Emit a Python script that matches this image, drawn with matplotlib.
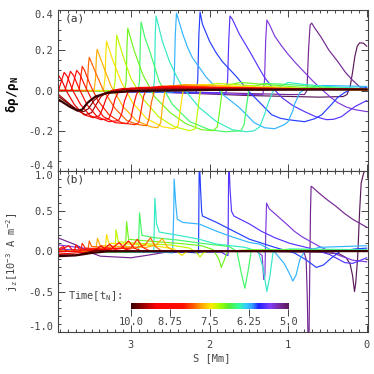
import numpy as np
import matplotlib
matplotlib.use('Agg')
import matplotlib.pyplot as plt
from matplotlib.colors import LinearSegmentedColormap, Normalize
from matplotlib.ticker import MultipleLocator

plt.rcParams['font.family'] = ['DejaVu Sans Mono']
plt.rcParams['mathtext.fontset'] = 'custom'
plt.rcParams['mathtext.rm'] = 'DejaVu Sans Mono'
plt.rcParams['mathtext.it'] = 'DejaVu Sans Mono'
plt.rcParams['mathtext.default'] = 'regular'

# snapshot times [t_N]
times = [5.0, 5.25, 5.5, 5.75, 6.0, 6.25, 6.5, 6.75, 7.0, 7.25, 7.5,
         7.75, 8.0, 8.25, 8.5, 8.75, 9.0, 9.25, 9.5, 9.75, 10.0]

# (a) density perturbation, points (S [Mm], drho/rho)
a_500 = [(3.92, 0.0), (2.5, -0.01), (1.5, -0.025), (0.6, -0.033), (0.3, -0.03), (0.25, -0.02),
         (0.21, 0.02), (0.18, 0.09), (0.15, 0.17), (0.12, 0.22), (0.09, 0.237), (0.04, 0.235), (0.0, 0.22)]
a_525 = [(3.92, 0.0), (2.0, -0.01), (1.0, -0.02), (0.79, -0.02), (0.76, 0.0), (0.74, 0.2), (0.72, 0.325),
         (0.70, 0.335), (0.66, 0.31), (0.58, 0.265), (0.48, 0.2), (0.37, 0.145), (0.27, 0.09),
         (0.19, 0.055), (0.08, 0.015), (0.0, 0.0)]
a_550 = [(3.92, 0.0), (2.5, -0.01), (1.5, -0.02), (1.32, -0.02), (1.30, 0.05), (1.285, 0.25), (1.27, 0.35),
         (1.24, 0.33), (1.17, 0.27), (1.08, 0.22), (1.0, 0.18), (0.9, 0.135), (0.79, 0.09), (0.68, 0.045),
         (0.57, 0.005), (0.47, -0.03), (0.37, -0.06), (0.26, -0.082), (0.15, -0.095), (0.0, -0.105)]
a_575 = [(3.92, 0.0), (2.5, -0.01), (1.79, -0.012), (1.77, 0.05), (1.755, 0.25), (1.74, 0.37), (1.71, 0.355),
         (1.62, 0.28), (1.49, 0.195), (1.36, 0.105), (1.3, 0.065), (1.2, 0.015), (1.08, -0.035),
         (0.94, -0.075), (0.79, -0.105), (0.65, -0.13), (0.51, -0.145), (0.42, -0.143), (0.32, -0.13),
         (0.22, -0.1), (0.15, -0.08), (0.0, -0.05)]
a_600 = [(3.92, 0.0), (2.6, -0.008), (2.17, -0.01), (2.15, 0.05), (2.135, 0.28), (2.12, 0.39), (2.09, 0.33),
         (2.0, 0.245), (1.92, 0.19), (1.84, 0.145), (1.66, 0.07), (1.5, -0.005), (1.36, -0.06),
         (1.21, -0.12), (1.1, -0.138), (1.0, -0.145), (0.79, -0.155), (0.66, -0.14), (0.57, -0.12),
         (0.45, -0.07), (0.37, -0.035), (0.28, -0.01), (0.2, 0.005), (0.0, 0.015)]
a_625 = [(3.92, 0.0), (2.9, -0.005), (2.47, -0.008), (2.45, 0.05), (2.435, 0.28), (2.42, 0.385),
         (2.34, 0.28), (2.28, 0.215), (2.22, 0.165), (2.04, 0.065), (1.83, -0.02), (1.62, -0.085),
         (1.43, -0.16), (1.3, -0.185), (1.17, -0.19), (1.05, -0.17), (1.0, -0.155), (0.94, -0.1),
         (0.92, -0.07), (0.85, -0.01), (0.79, 0.005), (0.57, 0.025), (0.2, 0.022), (0.0, 0.02)]
a_650 = [(3.92, 0.0), (3.0, -0.005), (2.72, -0.006), (2.70, 0.05), (2.69, 0.28), (2.68, 0.37), (2.6, 0.245),
         (2.51, 0.145), (2.42, 0.07), (2.34, 0.015), (2.13, -0.085), (1.91, -0.155), (1.71, -0.195),
         (1.53, -0.205), (1.43, -0.2), (1.36, -0.18), (1.3, -0.12), (1.26, -0.07), (1.2, -0.01),
         (1.17, 0.005), (1.0, 0.04), (0.79, 0.03), (0.5, 0.02), (0.0, 0.01)]
a_675 = [(3.92, 0.0), (3.2, -0.003), (2.91, -0.005), (2.89, 0.05), (2.88, 0.25), (2.87, 0.34),
         (2.82, 0.26), (2.76, 0.195), (2.64, 0.045), (2.47, -0.07), (2.25, -0.155), (2.0, -0.195),
         (1.8, -0.205), (1.6, -0.2), (1.56, -0.17), (1.53, -0.08), (1.5, 0.0), (1.45, 0.02),
         (1.3, 0.035), (1.0, 0.03), (0.5, 0.015), (0.0, 0.005)]
a_700 = [(3.92, 0.0), (3.3, 0.0), (3.08, -0.003), (3.06, 0.05), (3.05, 0.22), (3.04, 0.31), (2.96, 0.2),
         (2.85, 0.08), (2.7, -0.03), (2.5, -0.11), (2.3, -0.165), (2.1, -0.195), (1.95, -0.2),
         (1.9, -0.18), (1.87, -0.1), (1.84, 0.0), (1.8, 0.025), (1.6, 0.04), (1.3, 0.03),
         (0.8, 0.015), (0.0, 0.005)]
a_725 = [(3.92, 0.0), (3.4, 0.0), (3.22, -0.003), (3.2, 0.05), (3.19, 0.2), (3.18, 0.275), (3.1, 0.17),
         (3.0, 0.06), (2.85, -0.04), (2.65, -0.13), (2.45, -0.18), (2.25, -0.2), (2.18, -0.19),
         (2.15, -0.1), (2.12, -0.01), (2.08, 0.025), (1.9, 0.035), (1.5, 0.025), (0.8, 0.01),
         (0.0, 0.003)]
a_750 = [(3.92, 0.0), (3.5, 0.0), (3.35, -0.003), (3.33, 0.06), (3.32, 0.18), (3.31, 0.245), (3.23, 0.15),
         (3.12, 0.04), (2.98, -0.06), (2.8, -0.14), (2.6, -0.18), (2.45, -0.19), (2.4, -0.175),
         (2.37, -0.09), (2.34, -0.01), (2.3, 0.02), (2.1, 0.03), (1.6, 0.02), (0.8, 0.008),
         (0.0, 0.003)]
a_775 = [(3.92, 0.0), (3.6, 0.0), (3.47, -0.003), (3.45, 0.06), (3.44, 0.16), (3.43, 0.205), (3.35, 0.12),
         (3.25, 0.02), (3.1, -0.08), (2.93, -0.15), (2.75, -0.18), (2.66, -0.185), (2.62, -0.16),
         (2.6, -0.08), (2.57, -0.01), (2.52, 0.02), (2.3, 0.03), (1.8, 0.02), (1.0, 0.008),
         (0.0, 0.003)]
a_800 = [(3.92, 0.0), (3.7, 0.0), (3.57, -0.003), (3.55, 0.06), (3.54, 0.13), (3.53, 0.165), (3.45, 0.09),
         (3.35, 0.0), (3.2, -0.09), (3.05, -0.15), (2.9, -0.17), (2.8, -0.175), (2.77, -0.14),
         (2.74, -0.06), (2.7, 0.0), (2.65, 0.02), (2.4, 0.025), (1.8, 0.015), (0.0, 0.005)]
a_825 = [(3.92, 0.0), (3.75, 0.0), (3.66, 0.0), (3.64, 0.06), (3.62, 0.12), (3.59, 0.1), (3.52, 0.03),
         (3.42, -0.05), (3.28, -0.12), (3.12, -0.16), (2.95, -0.17), (2.9, -0.16), (2.87, -0.1),
         (2.84, -0.03), (2.8, 0.01), (2.6, 0.02), (1.8, 0.012), (0.0, 0.005)]
a_850 = [(3.92, 0.0), (3.76, 0.0), (3.73, 0.04), (3.69, 0.1), (3.65, 0.08), (3.58, 0.02), (3.48, -0.06),
         (3.35, -0.13), (3.2, -0.16), (3.05, -0.165), (3.0, -0.14), (2.97, -0.08), (2.93, -0.02),
         (2.88, 0.01), (2.6, 0.02), (1.8, 0.012), (0.0, 0.005)]
a_875 = [(3.92, 0.0), (3.84, 0.0), (3.81, 0.04), (3.77, 0.095), (3.73, 0.075), (3.66, 0.01), (3.56, -0.07),
         (3.43, -0.13), (3.28, -0.155), (3.16, -0.15), (3.12, -0.12), (3.08, -0.05), (3.03, 0.0),
         (2.9, 0.015), (2.4, 0.018), (1.5, 0.012), (0.0, 0.005)]
a_900 = [(3.92, 0.0), (3.89, 0.04), (3.85, 0.09), (3.81, 0.07), (3.74, 0.0), (3.64, -0.07), (3.52, -0.125),
         (3.38, -0.145), (3.28, -0.14), (3.24, -0.1), (3.2, -0.04), (3.15, 0.0), (3.0, 0.012),
         (2.4, 0.015), (1.5, 0.01), (0.0, 0.005)]
a_925 = [(3.92, 0.075), (3.88, 0.05), (3.81, -0.01), (3.72, -0.07), (3.6, -0.12), (3.48, -0.135),
         (3.4, -0.125), (3.36, -0.09), (3.31, -0.035), (3.25, 0.0), (3.1, 0.01), (2.4, 0.012),
         (1.5, 0.01), (0.0, 0.005)]
a_950 = [(3.92, -0.02), (3.8, -0.06), (3.68, -0.1), (3.58, -0.12), (3.5, -0.11), (3.45, -0.075),
         (3.38, -0.03), (3.3, -0.008), (3.1, 0.005), (2.5, 0.01), (1.5, 0.008), (0.0, 0.005)]
a_975 = [(3.92, -0.03), (3.78, -0.07), (3.66, -0.1), (3.6, -0.105), (3.54, -0.09), (3.47, -0.05),
         (3.38, -0.02), (3.2, -0.005), (2.8, 0.003), (1.5, 0.006), (0.0, 0.005)]
a_1000 = [(3.92, -0.045), (3.78, -0.08), (3.68, -0.1), (3.62, -0.095), (3.55, -0.06), (3.45, -0.03),
          (3.3, -0.012), (3.0, -0.003), (2.0, 0.003), (0.0, 0.005)]

# (b) current density j_z [1e-3 A m^-2]
b_500 = [(3.92, 0.0), (1.5, 0.0), (0.6, -0.01), (0.35, -0.03), (0.26, -0.08), (0.21, -0.16), (0.18, -0.3),
         (0.155, -0.5), (0.14, -0.4), (0.115, -0.08), (0.09, 0.5), (0.07, 0.85), (0.04, 0.97), (0.0, 1.05)]
b_525 = [(3.92, 0.165), (3.7, 0.08), (3.5, -0.02), (3.39, -0.06), (3.0, -0.08), (2.8, -0.05), (2.55, -0.01),
         (2.2, 0.0), (1.2, 0.01), (0.8, 0.0), (0.77, -0.1), (0.755, -0.6), (0.745, -1.2), (0.735, -1.2),
         (0.725, -0.3), (0.715, 0.5), (0.707, 0.81), (0.68, 0.79), (0.6, 0.72), (0.5, 0.64), (0.39, 0.56),
         (0.28, 0.47), (0.18, 0.4), (0.0, 0.3)]
b_550 = [(3.92, 0.08), (3.6, 0.04), (3.3, 0.01), (3.0, 0.0), (2.0, 0.0), (1.4, 0.0), (1.33, -0.05),
         (1.31, -0.35), (1.295, -0.3), (1.285, 0.2), (1.274, 0.6), (1.24, 0.53), (1.17, 0.47),
         (1.02, 0.34), (0.92, 0.25), (0.82, 0.18), (0.6, 0.06), (0.38, -0.04), (0.18, -0.11), (0.0, -0.13)]
b_575 = [(3.92, 0.03), (3.5, 0.0), (2.5, -0.01), (1.85, -0.01), (1.78, -0.05), (1.765, -0.05),
         (1.755, 1.2), (1.74, 0.8), (1.72, 0.5), (1.69, 0.44), (1.49, 0.34), (1.34, 0.25),
         (1.17, 0.17), (0.98, 0.1), (0.73, 0.04), (0.47, -0.04), (0.28, -0.14), (0.18, -0.15),
         (0.0, -0.08)]
b_600 = [(3.92, 0.0), (2.3, -0.01), (2.14, -0.02), (2.13, 1.2), (2.115, 0.8), (2.1, 0.5), (2.09, 0.44),
         (1.91, 0.36), (1.71, 0.26), (1.49, 0.15), (1.36, 0.11), (1.17, 0.05), (0.92, -0.02),
         (0.78, -0.1), (0.64, -0.2), (0.55, -0.17), (0.47, -0.1), (0.34, 0.0), (0.15, 0.03), (0.0, 0.04)]
b_625 = [(3.92, 0.0), (2.6, -0.01), (2.47, -0.02), (2.455, 0.5), (2.45, 0.9), (2.43, 0.6), (2.41, 0.4),
         (2.34, 0.36), (2.13, 0.34), (1.91, 0.25), (1.71, 0.18), (1.49, 0.11), (1.36, 0.09),
         (1.24, 0.03), (1.17, -0.01), (1.05, -0.15), (0.97, -0.3), (0.94, -0.37), (0.9, -0.3),
         (0.85, -0.1), (0.79, 0.0), (0.6, 0.05), (0.0, 0.07)]
b_650 = [(3.92, 0.0), (2.8, -0.01), (2.71, -0.01), (2.695, 0.66), (2.675, 0.35), (2.64, 0.24), (2.34, 0.19),
         (2.13, 0.15), (1.91, 0.09), (1.55, 0.05), (1.38, 0.0), (1.32, -0.2), (1.27, -0.5),
         (1.23, -0.3), (1.19, 0.0), (0.98, 0.03), (0.0, 0.02)]
b_675 = [(3.92, 0.0), (3.0, -0.01), (2.905, 0.0), (2.89, 0.48), (2.86, 0.2), (2.7, 0.17), (2.4, 0.14),
         (2.1, 0.1), (1.75, 0.06), (1.65, 0.0), (1.6, -0.25), (1.55, -0.46), (1.51, -0.25),
         (1.47, 0.0), (1.3, 0.02), (0.0, 0.01)]
b_700 = [(3.92, 0.0), (3.2, -0.005), (3.07, 0.0), (3.055, 0.37), (3.03, 0.15), (2.8, 0.13), (2.4, 0.1),
         (2.1, 0.07), (1.95, 0.02), (1.88, -0.1), (1.85, -0.2), (1.81, -0.1), (1.77, 0.0),
         (1.5, 0.02), (0.0, 0.01)]
b_725 = [(3.92, 0.0), (3.3, 0.0), (3.2, 0.0), (3.19, 0.27), (3.16, 0.12), (2.9, 0.1), (2.5, 0.08),
         (2.25, 0.04), (2.16, -0.02), (2.12, -0.07), (2.08, -0.02), (2.0, 0.01), (0.0, 0.005)]
b_750 = [(3.92, 0.0), (3.33, 0.0), (3.31, 0.21), (3.28, 0.1), (3.0, 0.09), (2.7, 0.07), (2.45, 0.03),
         (2.38, -0.03), (2.35, -0.05), (2.3, -0.01), (2.2, 0.01), (0.0, 0.005)]
b_775 = [(3.92, 0.0), (3.45, 0.0), (3.425, 0.16), (3.39, 0.07), (3.1, 0.06), (2.8, 0.05), (2.68, 0.08),
         (2.6, 0.16), (2.54, 0.06), (2.45, 0.0), (2.0, 0.0), (0.0, 0.005)]
b_800 = [(3.92, 0.0), (3.55, 0.0), (3.53, 0.13), (3.5, 0.06), (3.2, 0.04), (2.95, 0.04), (2.82, 0.08),
         (2.75, 0.17), (2.69, 0.06), (2.6, 0.0), (2.0, 0.0), (0.0, 0.005)]
b_825 = [(3.92, 0.0), (3.64, 0.0), (3.62, 0.1), (3.58, 0.04), (3.3, 0.03), (3.0, 0.04), (2.92, 0.15),
         (2.85, 0.05), (2.75, 0.0), (0.0, 0.005)]
b_850 = [(3.92, 0.0), (3.72, 0.0), (3.7, 0.08), (3.66, 0.03), (3.4, 0.02), (3.12, 0.04), (3.03, 0.13),
         (2.96, 0.04), (2.85, 0.0), (0.0, 0.005)]
b_875 = [(3.92, 0.01), (3.79, 0.07), (3.75, 0.02), (3.45, 0.01), (3.25, 0.03), (3.15, 0.11), (3.08, 0.03),
         (2.95, 0.0), (0.0, 0.005)]
b_900 = [(3.92, 0.03), (3.86, 0.06), (3.82, 0.0), (3.55, -0.02), (3.35, 0.02), (3.27, 0.09), (3.2, 0.02),
         (3.05, 0.0), (0.0, 0.005)]
b_925 = [(3.92, -0.02), (3.6, -0.04), (3.45, 0.02), (3.38, 0.07), (3.32, 0.02), (3.2, 0.0), (0.0, 0.005)]
b_950 = [(3.92, -0.04), (3.7, -0.05), (3.55, -0.02), (3.45, 0.02), (3.35, 0.01), (3.0, 0.0), (0.0, 0.003)]
b_975 = [(3.92, -0.05), (3.7, -0.05), (3.55, -0.01), (3.45, 0.01), (3.2, 0.0), (0.0, 0.003)]
b_1000 = [(3.92, -0.06), (3.7, -0.05), (3.5, -0.02), (3.3, 0.0), (0.0, 0.003)]

curves_a = [a_500, a_525, a_550, a_575, a_600, a_625, a_650, a_675, a_700, a_725, a_750,
            a_775, a_800, a_825, a_850, a_875, a_900, a_925, a_950, a_975, a_1000]
curves_b = [b_500, b_525, b_550, b_575, b_600, b_625, b_650, b_675, b_700, b_725, b_750,
            b_775, b_800, b_825, b_850, b_875, b_900, b_925, b_950, b_975, b_1000]

cbar_ticks = [10.0, 8.75, 7.5, 6.25, 5.0]
cbar_labels = ['10.0', '8.75', '7.5', '6.25', '5.0']

# rainbow-like table, dark purple (t=5) -> dark red (t=10)
cmap = LinearSegmentedColormap.from_list('time', [
    (0.00, '#5a1a5a'), (0.06, '#7a2aa0'), (0.12, '#8040ff'), (0.19, '#2020ff'),
    (0.23, '#3399ff'), (0.27, '#33ccff'), (0.32, '#33ff99'), (0.38, '#55ee33'),
    (0.43, '#99ff00'), (0.49, '#ffee00'), (0.55, '#ffaa00'), (0.61, '#ff5500'),
    (0.67, '#ff1000'), (0.84, '#ff0000'), (1.00, '#3a0000')])
norm = Normalize(5.0, 10.0)

gray = '#444444'
fig = plt.figure(figsize=(3.74, 3.74), dpi=100)
W = 374.0
ax1 = fig.add_axes([58.3 / W, 1 - 171 / W, 309.4 / W, 161 / W])
ax2 = fig.add_axes([58.3 / W, 1 - 331.7 / W, 309.4 / W, 160.7 / W])

for t, ca, cb in zip(times, curves_a, curves_b):
    col = cmap(norm(t))
    sa, va = np.array(ca).T
    sb, vb = np.array(cb).T
    lw = 1.6 if t >= 9.9 else 0.85
    ax1.plot(sa, va, color=col, lw=lw)
    ax2.plot(sb, vb, color=col, lw=lw)

for ax in (ax1, ax2):
    ax.set_xlim(3.924, -0.013)
    ax.xaxis.set_major_locator(MultipleLocator(1))
    ax.xaxis.set_minor_locator(MultipleLocator(0.1))
    ax.tick_params(which='both', direction='in', top=True, right=True, color=gray,
                   labelcolor=gray, labelsize=7.5, width=0.7)
    ax.tick_params(which='major', length=5)
    ax.tick_params(which='minor', length=2.5)
    for sp in ax.spines.values():
        sp.set_color(gray)
        sp.set_linewidth(0.8)

ax1.set_ylim(-0.4, 0.4)
ax1.yaxis.set_minor_locator(MultipleLocator(0.05))
ax1.set_yticks([0.4, 0.2, 0.0, -0.2, -0.4])
ax1.set_yticklabels(['0.4', '0.2', '0.0', '-0.2', '-0.4'])
ax1.tick_params(labelbottom=False)

ax2.set_ylim(-1.0, 1.0)
ax2.yaxis.set_minor_locator(MultipleLocator(0.1))
ax2.set_yticks([1.0, 0.5, 0.0, -0.5, -1.0])
ax2.set_yticklabels(['1.0', '0.5', '0.0', '-0.5', '-1.0'])
ax2.set_xticks([3, 2, 1, 0])
ax2.set_xticklabels(['3', '2', '1', '0'])
ax2.tick_params(axis='x', pad=6)

# keep the edge labels inside their own panel
for ax in (ax1, ax2):
    labs = ax.get_yticklabels()
    labs[0].set_verticalalignment('top')
    labs[-1].set_verticalalignment('bottom')

ax1.text(0.022, 0.945, '(a)', transform=ax1.transAxes, fontsize=8, color='#333333', va='center')
ax2.text(0.022, 0.945, '(b)', transform=ax2.transAxes, fontsize=8, color='#333333', va='center')

fig.text(12.5 / W, 1 - 95 / W, 'δρ/ρ$_N$', rotation=90, ha='center', va='center',
         fontsize=9, fontweight='bold', color='black')
fig.text(12.5 / W, 1 - 252 / W, 'j$_z$[10$^{-3}$ A m$^{-2}$]', rotation=90, ha='center',
         va='center', fontsize=7.5, color=gray)
fig.text(212 / W, 1 - 358 / W, 'S [Mm]', ha='center', va='center', fontsize=7.5, color=gray)

# colour bar inside panel (b)
cax = fig.add_axes([131 / W, 1 - 309 / W, 157.3 / W, 6 / W])
grad = np.linspace(10.0, 5.0, 256)[None, :]
cax.imshow(grad, aspect='auto', cmap=cmap, norm=norm, extent=[10.0, 5.0, 0, 1])
cax.set_xlim(10.0, 5.0)
cax.set_yticks([])
cax.set_xticks(cbar_ticks)
cax.set_xticklabels(cbar_labels)
cax.tick_params(axis='x', direction='out', length=5, width=0.7, color=gray,
                labelcolor=gray, labelsize=7.5, pad=1)
for sp in cax.spines.values():
    sp.set_visible(False)
fig.text(68 / W, 1 - 296.5 / W, 'Time[t$_N$]:', ha='left', va='center', fontsize=7.5, color=gray)

fig.savefig('out.png', dpi=100)
